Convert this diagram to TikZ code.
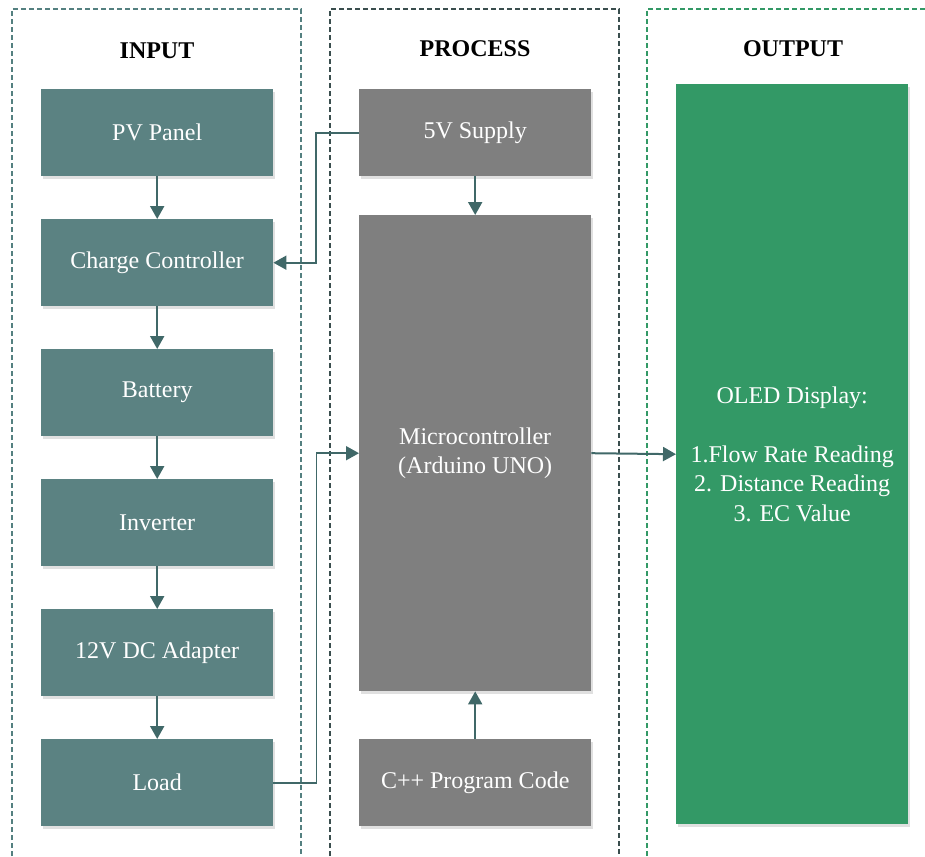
\documentclass[tikz,border=0pt]{standalone}
\usepackage{fontspec}
\setmainfont{Liberation Serif}
\usetikzlibrary{arrows.meta,shadows}
\definecolor{inbox}{RGB}{91,130,130}
\definecolor{inframe}{RGB}{84,128,128}
\definecolor{procframe}{RGB}{58,78,78}
\definecolor{procbox}{RGB}{127,127,127}
\definecolor{outbox}{RGB}{51,153,102}
\definecolor{arrowc}{RGB}{64,104,104}
\tikzset{
  frame/.style={line width=2.2pt, dash pattern=on 5pt off 3pt},
  boxbase/.style={anchor=north west, inner sep=0pt, text=white, align=center,
    font=\fontsize{24}{29.5}\selectfont,
    drop shadow={shadow xshift=2pt, shadow yshift=-3pt, opacity=0.12, fill=black}},
  inblock/.style={boxbase, fill=inbox, minimum width=232pt, minimum height=87pt},
  procblock/.style={boxbase, fill=procbox, minimum width=232pt},
  outblock/.style={boxbase, fill=outbox, minimum width=232pt},
  title/.style={font=\fontsize{24}{28}\selectfont\bfseries},
  conn/.style={draw=arrowc, line width=2pt, -{Triangle[width=14pt,length=13pt]}},
  elbow/.style={draw=arrowc, line width=1.6pt, -{Triangle[width=14pt,length=13pt]}}
}
\begin{document}
\begin{tikzpicture}[x=1pt,y=-1pt]
\useasboundingbox (0,0) rectangle (925,856);
\fill[white] (0,0) rectangle (925,856);
\begin{scope}
\clip (0,0) rectangle (925,856);
\draw[frame, draw=inframe] (12,880) -- (12,9) -- (301,9) -- (301,880);
\draw[frame, draw=procframe] (330,880) -- (330,9) -- (619,9) -- (619,880);
\draw[frame, draw=outbox] (647,880) -- (647,9) -- (960,9);
\end{scope}

\node[title] (tin) at (157,51) {INPUT};
\node[title] (tproc) at (475,49) {PROCESS};
\node[title] (tout) at (793,49) {OUTPUT};

\node[inblock] (pv) at (41,89) {PV Panel};
\node[inblock] (cc) at (41,219) {Charge Controller};
\node[inblock] (bat) at (41,349) {Battery};
\node[inblock] (inv) at (41,479) {Inverter};
\node[inblock] (dc) at (41,609) {12V DC Adapter};
\node[inblock] (load) at (41,739) {Load};

\node[procblock, minimum height=87pt] (sup) at (359,89) {5V Supply};
\node[procblock, minimum height=476pt] (mcu) at (359,215) {Microcontroller\\(Arduino UNO)};
\node[procblock, minimum height=87pt] (code) at (359,739) {C++ Program Code};

\node[outblock, minimum height=740pt] (oled) at (676,84) {OLED Display:\\[29.5pt]1.Flow Rate Reading\\2. Distance Reading\\3. EC Value};

\draw[conn] (pv) -- (cc);
\draw[conn] (cc) -- (bat);
\draw[conn] (bat) -- (inv);
\draw[conn] (inv) -- (dc);
\draw[conn] (dc) -- (load);
\draw[conn] (sup) -- (mcu);
\draw[conn] (code) -- (mcu);
\draw[elbow] (sup.west) -- ++(-43,0) |- (cc.east);
\draw[elbow] (load.east) -- ++(43,0) |- (mcu.west);
\draw[conn] (mcu.east) -- (oled.west);
\end{tikzpicture}
\end{document}
